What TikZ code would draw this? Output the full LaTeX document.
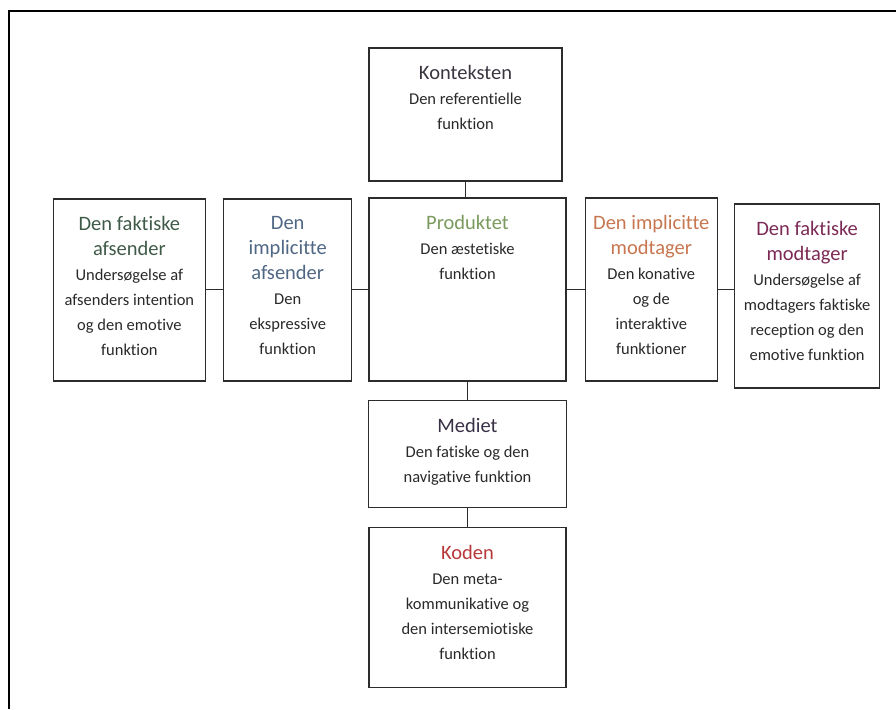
\documentclass[tikz,border=0pt]{standalone}
\usepackage{fontspec}
\setmainfont{Carlito}[Ligatures=NoCommon]
\usetikzlibrary{positioning}
\definecolor{boxline}{HTML}{2E2B2B}
\definecolor{bodyink}{HTML}{2A2828}
\definecolor{inkKon}{HTML}{3B3540}
\definecolor{inkProd}{HTML}{7A9A5E}
\definecolor{inkFafs}{HTML}{3F5A48}
\definecolor{inkIafs}{HTML}{4F6784}
\definecolor{inkImod}{HTML}{C7764F}
\definecolor{inkFmod}{HTML}{7C2A55}
\definecolor{inkMed}{HTML}{3A3045}
\definecolor{inkKod}{HTML}{B8383A}
\newcommand{\titlefont}{\fontsize{20.5}{25}\selectfont}
\newcommand{\bodyfont}{\fontsize{16.5}{25}\selectfont}
\newcommand{\boxtitle}[2]{{\color{#1}\titlefont #2}}
\tikzset{
  fbox/.style={rectangle, draw=boxline, line width=1.3pt, inner sep=0pt},
  ftext/.style={align=center, font=\bodyfont, text=bodyink, inner sep=0pt,
                anchor=north, yshift=-18pt},
  conn/.style={draw=boxline, line width=1.1pt},
  frame/.style={draw=black, line width=2pt},
}
\begin{document}
\begin{tikzpicture}[x=1pt, y=-1pt]
  \useasboundingbox (0,0) rectangle (896,709);
  \draw[frame] (896,11) -- (9,11) -- (9,709);

  \node[fbox, minimum width=193pt, minimum height=133pt,
        label={[ftext]north:{\boxtitle{inkKon}{Konteksten}\\Den referentielle\\funktion}}]
        (kon) at (465.5,114.5) {};
  \node[fbox, minimum width=197pt, minimum height=183pt,
        label={[ftext]north:{\boxtitle{inkProd}{Produktet}\\Den æstetiske\\funktion}}]
        (prod) at (467.5,289.5) {};
  \node[fbox, minimum width=128pt, minimum height=182pt,
        left=16pt of prod.south west, anchor=south east,
        label={[ftext]north:{\boxtitle{inkIafs}{Den}\\\boxtitle{inkIafs}{implicitte}\\\boxtitle{inkIafs}{afsender}\\Den\\ekspressive\\funktion}}]
        (iafs) {};
  \node[fbox, minimum width=152pt, minimum height=182pt,
        left=17pt of iafs.south west, anchor=south east,
        label={[ftext]north:{\boxtitle{inkFafs}{Den faktiske}\\\boxtitle{inkFafs}{afsender}\\Undersøgelse af\\afsenders intention\\og den emotive\\funktion}}]
        (fafs) {};
  \node[fbox, minimum width=132pt, minimum height=183pt,
        right=18pt of prod.south east, anchor=south west,
        label={[ftext]north:{\boxtitle{inkImod}{Den implicitte}\\\boxtitle{inkImod}{modtager}\\Den konative\\og de\\interaktive\\funktioner}}]
        (imod) {};
  \node[fbox, minimum width=145pt, minimum height=184pt,
        right=16pt of imod.south east, anchor=south west, yshift=-7pt,
        label={[ftext]north:{\boxtitle{inkFmod}{Den faktiske}\\\boxtitle{inkFmod}{modtager}\\Undersøgelse af\\modtagers faktiske\\reception og den\\emotive funktion}}]
        (fmod) {};
  \node[fbox, minimum width=198pt, minimum height=107pt,
        below=18pt of prod.south, anchor=north,
        label={[ftext]north:{\boxtitle{inkMed}{Mediet}\\Den fatiske og den\\navigative funktion}}]
        (med) {};
  \node[fbox, minimum width=197pt, minimum height=160pt,
        below=19pt of med.south, anchor=north,
        label={[ftext]north:{\boxtitle{inkKod}{Koden}\\Den meta-\\kommunikative og\\den intersemiotiske\\funktion}}]
        (kod) {};

  \draw[conn] (kon.south) -- (kon.south |- prod.north);
  \draw[conn] (fafs.east |- prod.west) -- (iafs.west |- prod.west);
  \draw[conn] (iafs.east |- prod.west) -- (prod.west);
  \draw[conn] (prod.east) -- (imod.west |- prod.east);
  \draw[conn] (imod.east |- prod.east) -- (fmod.west |- prod.east);
  \draw[conn] (prod.south) -- (med.north);
  \draw[conn] (med.south) -- (kod.north);
\end{tikzpicture}
\end{document}
